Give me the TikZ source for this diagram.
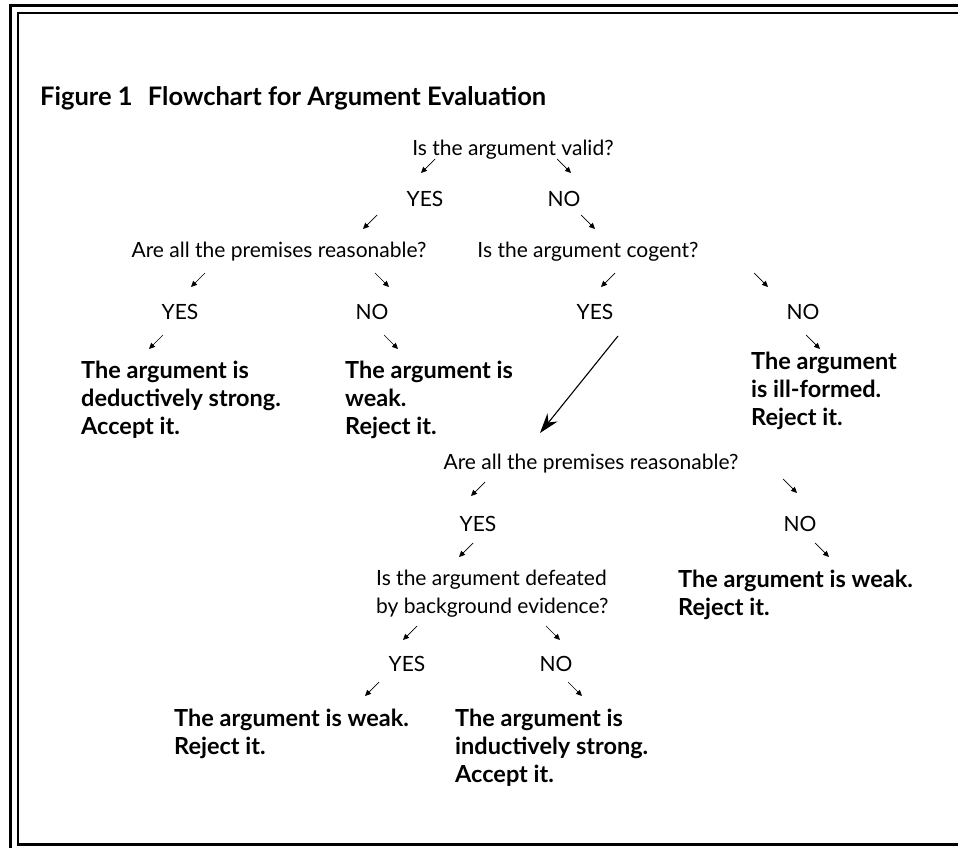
\documentclass[tikz,border=0pt]{standalone}
\usepackage{fontspec}
\setmainfont{Lato}
\usetikzlibrary{arrows.meta}
\begin{document}
\begin{tikzpicture}[x=1pt,y=-1pt,
  q/.style={font=\fontsize{21}{28}\selectfont, inner sep=0pt},
  ans/.style={font=\fontsize{23.5}{28}\selectfont\bfseries, inner sep=0pt, align=left, anchor=north west},
  ttl/.style={font=\fontsize{25.5}{28}\selectfont\bfseries, inner sep=0pt, anchor=base west},
  sa/.style={-{Triangle[length=6pt,width=5.5pt]}, line width=0.7pt},
  bigarrow/.style={-{Stealth[length=20pt,width=13pt]}, line width=1.1pt},
  frame/.style={line width=2.7pt}]
\useasboundingbox (0,0) rectangle (958,848);
\clip (0,0) rectangle (958,848);
% frame
\draw[frame] (10.5,870) -- (10.5,5.3) -- (980,5.3);
\draw[frame] (980,13) -- (18,13) -- (18,844.5) -- (980,844.5);
% title
\node[ttl] (title) at (40,106) {Figure 1\hspace{0.6em}Flowchart for Argument Evaluation};
% small arrows
\newcommand{\sw}[2]{\draw[sa] (#1+7,#2-7) -- (#1-7,#2+7);}
\newcommand{\se}[2]{\draw[sa] (#1-7,#2-7) -- (#1+7,#2+7);}
% level 1
\node[q, anchor=base] (q1) at (513,155) {Is the argument valid?};
\sw{428}{166} \se{564}{166}
\node[q, anchor=base] (yes1) at (425,206) {YES};
\node[q, anchor=base] (no1) at (564,206) {NO};
\sw{370}{222} \se{588}{222}
% level 2
\node[q, anchor=base] (q2) at (279,257) {Are all the premises reasonable?};
\node[q, anchor=base] (q3) at (588,257) {Is the argument cogent?};
\sw{198}{280} \se{382}{280} \sw{608}{280} \se{761}{280}
\node[q, anchor=base] (yes2) at (180,319) {YES};
\node[q, anchor=base] (no2) at (372,319) {NO};
\node[q, anchor=base] (yes3) at (595,319) {YES};
\node[q, anchor=base] (no3) at (803,319) {NO};
\sw{156}{342} \se{391}{342} \se{813}{342}
% answers
\node[ans] (a1) at (81,361) {The argument is\\deductively strong.\\Accept it.};
\node[ans] (a2) at (345,361) {The argument is\\weak.\\Reject it.};
\node[ans] (a3) at (751,352) {The argument\\is ill-formed.\\Reject it.};
% long arrow
\coordinate (la) at (618,336);
\coordinate (lb) at (540,433);
\draw[bigarrow] (la) -- (lb);
% level 3
\node[q, anchor=base] (q4) at (591,469) {Are all the premises reasonable?};
\sw{478}{489} \se{790}{486}
\node[q, anchor=base] (yes4) at (478,531) {YES};
\node[q, anchor=base] (no4) at (800,531) {NO};
\sw{466}{550} \se{822}{550}
\node[q, align=left, anchor=north west] (q5) at (376,570) {Is the argument defeated\\by background evidence?};
\node[ans] (a4) at (678,570) {The argument is weak.\\Reject it.};
\sw{410}{633} \se{553}{633}
\node[q, anchor=base] (yes5) at (407,671) {YES};
\node[q, anchor=base] (no5) at (556,671) {NO};
\sw{372}{689} \se{575}{689}
\node[ans] (a5) at (174,709) {The argument is weak.\\Reject it.};
\node[ans] (a6) at (455,709) {The argument is\\inductively strong.\\Accept it.};
\end{tikzpicture}
\end{document}
